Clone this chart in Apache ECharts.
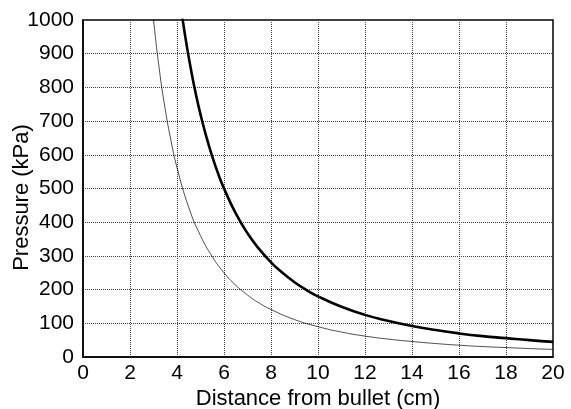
<!DOCTYPE html>
<html><head><meta charset="utf-8">
<script src="https://cdn.jsdelivr.net/npm/echarts@6/dist/echarts.min.js"></script>
<style>html,body{margin:0;padding:0;background:#fff}#c{width:571px;height:409px}</style>
</head><body><div id="c"></div>
<script>
const thickX = [4.2,4.4,4.6,4.8,5,5.25,5.5,5.75,6,6.5,7,7.5,8,8.5,9,9.5,10,11,12,13,14,15,16,17,18,19,20];
const thickY = [1020,930,851,781,720,653,595,544,500,426,367,320,281,249,222,199,180,149,125,107,92,80,70,62,56,50,45];
const thinX = [2.95,3,3.25,3.5,3.75,4,4.5,5,5.5,6,6.5,7,7.5,8,9,10,11,12,13,14,15,16,17,18,19,20];
const thinY = [1034,1000,852,735,640,562,444,360,298,250,213,184,160,141,111,90,74,62,53,46,40,35,31,28,25,22.5];
const xName = 'Distance from bullet (cm)';
const yName = 'Pressure (kPa)';

const zip = (xs, ys) => xs.map((x, i) => [x, ys[i]]);
const font = 'Liberation Sans, Arial, sans-serif';
const chart = echarts.init(document.getElementById('c'));
chart.setOption({
  animation: false,
  grid: {left: 83, right: 18, top: 20, bottom: 52, show: true, borderColor: '#000', borderWidth: 1.5,
         containLabel: false, outerBoundsMode: 'none'},
  xAxis: {
    type: 'value', min: 0, max: 20, interval: 2,
    name: xName, nameLocation: 'middle', nameGap: 31, nameMoveOverlap: false,
    nameTextStyle: {fontFamily: font, fontSize: 22, color: '#000'},
    axisLine: {show: true, lineStyle: {color: '#000', width: 1.5}},
    axisTick: {show: false},
    axisLabel: {fontFamily: font, fontSize: 21, color: '#000', margin: 6},
    splitLine: {show: true, lineStyle: {color: '#444', type: 'dotted', width: 1}}
  },
  yAxis: {
    type: 'value', min: 0, max: 1000, interval: 100,
    name: yName, nameLocation: 'middle', nameGap: 50, nameMoveOverlap: false,
    nameTextStyle: {fontFamily: font, fontSize: 22, color: '#000', padding: [0, 18, 0, 0]},
    axisLine: {show: true, lineStyle: {color: '#000', width: 1.5}},
    axisTick: {show: false},
    axisLabel: {fontFamily: font, fontSize: 21, color: '#000', margin: 9, formatter: v => String(v)},
    splitLine: {show: true, lineStyle: {color: '#444', type: 'dotted', width: 1}}
  },
  series: [
    {type: 'line', data: zip(thinX, thinY), smooth: true, showSymbol: false, clip: true,
     lineStyle: {color: '#000', width: 0.7}},
    {type: 'line', data: zip(thickX, thickY), smooth: true, showSymbol: false, clip: true,
     lineStyle: {color: '#000', width: 2.6}}
  ]
});
</script></body></html>
